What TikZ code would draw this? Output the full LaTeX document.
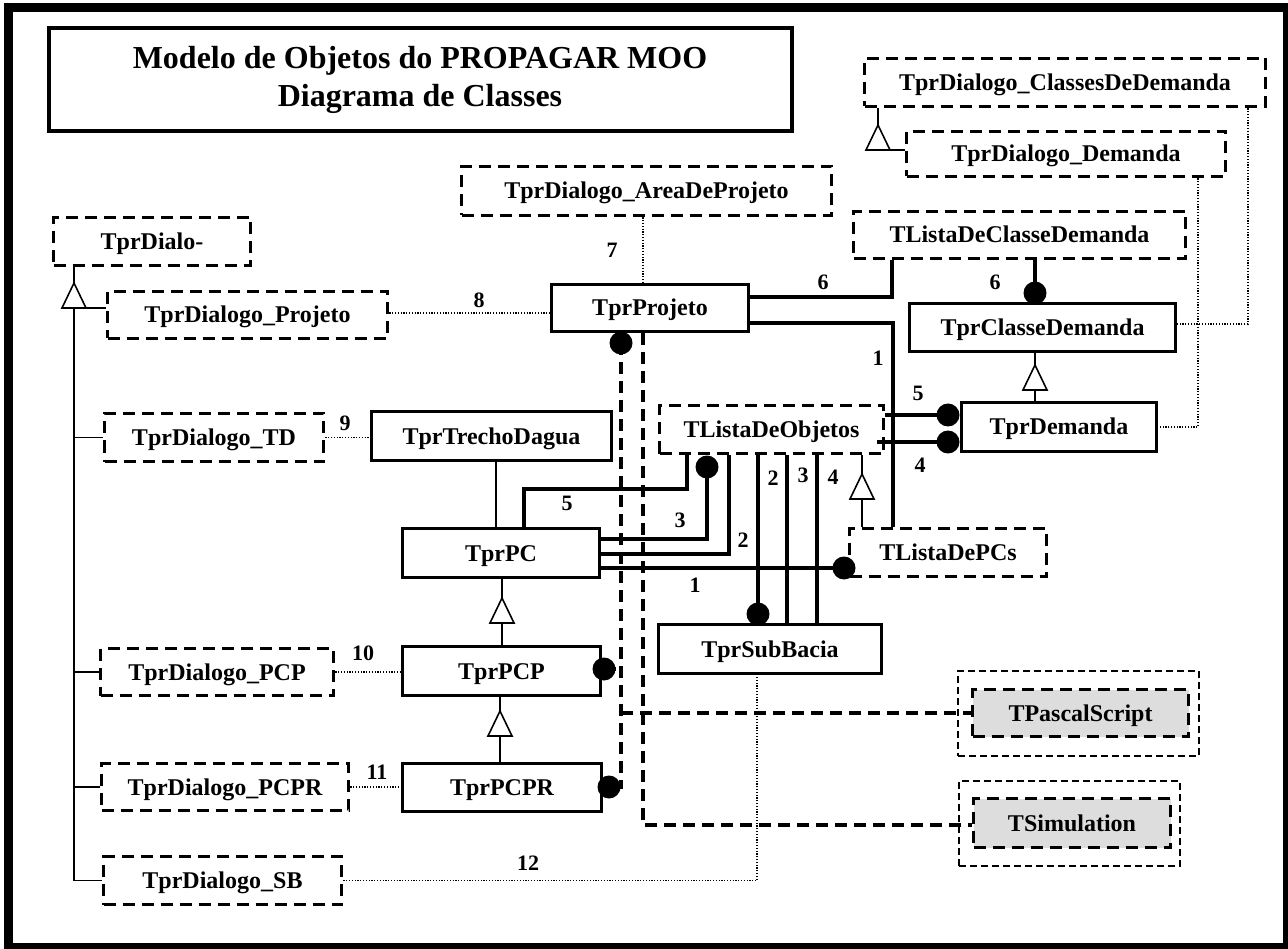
\documentclass[tikz,border=0pt]{standalone}
\usepackage{fontspec}
\setmainfont{Liberation Serif}
\definecolor{boxgray}{HTML}{DDDDDD}
\newcommand\nodefnt{\fontsize{24}{28}\selectfont\bfseries}
\newcommand\lblfnt{\fontsize{22}{26}\selectfont\bfseries}
\newcommand\titlefnt{\fontsize{32}{38}\selectfont\bfseries}
\newcommand\inhtri[1]{\draw[inh, fill=white] (#1) -- ++(-12,25) -- ++(24,0) -- cycle;}
\newcommand\ballat[1]{\fill[black] (#1) circle (11.5pt);}
\begin{document}
\begin{tikzpicture}[x=1pt,y=-1pt,
  sz/.style 2 args={minimum width=#1pt, minimum height=#2pt},
  sbox/.style={draw, line width=3.8pt, inner sep=0pt, font=\nodefnt, fill=white, text height=20pt, text depth=4pt},
  dbox/.style={draw, line width=3.8pt, dash pattern=on 12pt off 7pt, inner sep=0pt, font=\nodefnt, text height=20pt, text depth=4pt},
  gbox/.style={dbox, fill=boxgray},
  obox/.style={draw, line width=1.6pt, dash pattern=on 7pt off 4pt},
  assoc/.style={line width=3.8pt},
  inh/.style={line width=1.6pt},
  dots/.style={line width=1.3pt, dash pattern=on 1.2pt off 1.6pt},
  dline/.style={line width=3.8pt, dash pattern=on 12pt off 7pt},
  lbl/.style={font=\lblfnt, inner sep=0pt},
]
\useasboundingbox (0,0) rectangle (1288,949);
\fill[white] (0,0) rectangle (1288,949);
\draw[line width=9pt] (8,8) rectangle (1287,947);

% title
\node[draw, line width=4pt, sz={743}{103}, align=center, font=\titlefnt] (title) at (420,80)
  {Modelo de Objetos do PROPAGAR MOO\\Diagrama de Classes};

% class nodes
\node[dbox, sz={401}{48}] (cdd) at (1065,82.5) {TprDialogo\_ClassesDeDemanda};
\node[dbox, sz={319}{45}] (dd) at (1066,154) {TprDialogo\_Demanda};
\node[dbox, sz={370}{49}] (area) at (646.5,191) {TprDialogo\_AreaDeProjeto};
\node[dbox, sz={332}{47}] (lcd) at (1019.5,235) {TListaDeClasseDemanda};
\node[dbox, sz={197}{48}] (dialo) at (152,241.5) {TprDialo-};
\node[dbox, sz={280}{47}] (dproj) at (247.5,315) {TprDialogo\_Projeto};
\node[sbox, sz={197}{47}] (proj) at (650,308) {TprProjeto};
\node[sbox, sz={266}{48}] (cd) at (1042.5,327.5) {TprClasseDemanda};
\node[dbox, sz={219}{48}] (dtd) at (214,437.5) {TprDialogo\_TD};
\node[sbox, sz={240}{49}] (trecho) at (491.5,436) {TprTrechoDagua};
\node[dbox, sz={224}{48}] (lobj) at (771.5,429.5) {TListaDeObjetos};
\node[sbox, sz={195}{49}] (dem) at (1059,427) {TprDemanda};
\node[sbox, sz={197}{49}] (pc) at (501,553) {TprPC};
\node[dbox, sz={197}{48}] (lpcs) at (948,552.5) {TListaDePCs};
\node[sbox, sz={223}{49}] (sub) at (770,649) {TprSubBacia};
\node[dbox, sz={233}{47}] (dpcp) at (217,672) {TprDialogo\_PCP};
\node[sbox, sz={198}{49}] (pcp) at (501.5,671) {TprPCP};
\node[obox, sz={241}{85}] (pascalbox) at (1078.5,713.5) {};
\node[gbox, sz={216}{47}] (pascal) at (1080.5,713) {TPascalScript};
\node[dbox, sz={247}{47}] (dpcpr) at (225,787) {TprDialogo\_PCPR};
\node[sbox, sz={199}{48}] (pcpr) at (502,787.5) {TprPCPR};
\node[obox, sz={221}{85}] (simbox) at (1069.5,823.5) {};
\node[gbox, sz={197}{49}] (sim) at (1072,823) {TSimulation};
\node[dbox, sz={238}{48}] (dsb) at (222.5,880.5) {TprDialogo\_SB};

% dotted links
\coordinate (q8) at (0,313);
\draw[dots] (dproj.east |- q8) -- (proj.west |- q8);
\coordinate (q7) at (643,0);
\draw[dots] (q7 |- area.south) -- (q7 |- proj.north);
\draw[dots] (dtd.east) -- (trecho.west |- dtd.east);
\draw[dots] (dpcp.east) -- (pcp.west |- dpcp.east);
\draw[dots] (dpcpr.east) -- (pcpr.west |- dpcpr.east);
\coordinate (q12) at (757,0);
\draw[dots] (dsb.east) -| (q12 |- sub.south);
\coordinate (qd) at (1198,0);
\draw[dots] (qd |- dd.south) |- (dem.east);
\coordinate (qc) at (1248,0);
\coordinate (qc2) at (0,324);
\draw[dots] (qc |- cdd.south) |- (cd.east |- qc2);

% dashed links
\coordinate (bproj) at (621,343);
\coordinate (bpcp) at (604,669);
\coordinate (bpcpr) at (609,787);
\coordinate (v1) at (621,0);
\draw[dline] (bproj) -- (v1 |- bpcpr) -- (bpcpr);
\draw[dline] (bpcp) -- (v1 |- bpcp);
\draw[dline] (v1 |- pascal.west) -- (pascal.west);
\coordinate (v2) at (643,0);
\coordinate (v2b) at (0,825);
\draw[dline] (v2 |- proj.south) -- (v2 |- v2b) -- (sim.west |- v2b);
\ballat{bproj}
\ballat{bpcp}
\ballat{bpcpr}

% solid associations
\coordinate (k6) at (892,297);
\draw[assoc] (proj.east |- k6) -| (k6 |- lcd.south);
\coordinate (k6b) at (1035,293);
\draw[assoc] (k6b |- lcd.south) -- (k6b);
\ballat{k6b}
\coordinate (k1) at (893,323);
\draw[assoc] (proj.east |- k1) -| (k1 |- lpcs.north);
\coordinate (k5) at (948,415);
\draw[assoc] (lobj.east |- k5) -- (k5);
\ballat{k5}
\coordinate (k4s) at (877,442);
\coordinate (k4) at (948,442);
\draw[assoc] (k4s) -- (k4);
\ballat{k4}

\coordinate (tr) at (496,0);
\draw[line width=2.2pt] (tr |- trecho.south) -- (tr |- pc.north);

\coordinate (p5a) at (524,489);
\coordinate (p5b) at (687,489);
\draw[assoc] (p5a |- pc.north) -- (p5a) -- (p5b) -- (p5b |- lobj.south);
\coordinate (p3) at (707,467);
\coordinate (p3a) at (707,539);
\draw[assoc] (pc.east |- p3a) -- (p3a) -- (p3);
\ballat{p3}
\coordinate (p2) at (729,554);
\draw[assoc] (pc.east |- p2) -- (p2) -- (p2 |- lobj.south);
\coordinate (p1) at (844,568);
\draw[assoc] (pc.east |- p1) -- (p1);
\ballat{p1}
\coordinate (s2) at (758,614);
\draw[assoc] (s2 |- lobj.south) -- (s2);
\ballat{s2}
\coordinate (s3) at (787,0);
\draw[assoc] (s3 |- lobj.south) -- (s3 |- sub.north);
\coordinate (s4) at (817,0);
\draw[assoc] (s4 |- lobj.south) -- (s4 |- sub.north);

% inheritance
\coordinate (a1) at (1035,365);
\draw[inh] (a1 |- dem.north) -- ([yshift=-25pt]a1);
\draw[inh] (a1) -- (a1 |- cd.south);
\inhtri{a1}
\coordinate (a2) at (862,474);
\draw[inh] (a2 |- lpcs.north) -- ([yshift=-25pt]a2);
\draw[inh] (a2) -- (a2 |- lobj.south);
\inhtri{a2}
\coordinate (a3) at (502,598);
\draw[inh] (a3 |- pcp.north) -- ([yshift=-25pt]a3);
\draw[inh] (a3) -- (a3 |- pc.south);
\inhtri{a3}
\coordinate (a4) at (500,711);
\draw[inh] (a4 |- pcpr.north) -- ([yshift=-25pt]a4);
\draw[inh] (a4) -- (a4 |- pcp.south);
\inhtri{a4}
\coordinate (a5) at (878,125);
\coordinate (a5b) at (878,150);
\draw[inh] (a5) -- (a5 |- cdd.south);
\draw[inh] (a5b) -- (dd.west |- a5b);
\inhtri{a5}
\coordinate (a6) at (74,283);
\coordinate (a6b) at (74,308);
\draw[inh] (a6) -- (a6 |- dialo.south);
\draw[inh] (a6b) -- (dproj.west |- a6b);
\draw[inh] (a6b) -- (a6b |- dsb.west) -- (dsb.west);
\draw[inh] (a6b |- dtd.west) -- (dtd.west);
\draw[inh] (a6b |- dpcp.west) -- (dpcp.west);
\draw[inh] (a6b |- dpcpr.west) -- (dpcpr.west);
\inhtri{a6}

% labels
\node[lbl] (n8) at (479,300) {8};
\node[lbl] (n7) at (612,250) {7};
\node[lbl] (n6a) at (823,282) {6};
\node[lbl] (n6b) at (995,282) {6};
\node[lbl] (n1a) at (878,358) {1};
\node[lbl] (n5a) at (918,393) {5};
\node[lbl] (n4a) at (920,465) {4};
\node[lbl] (n9) at (345,423) {9};
\node[lbl] (n5b) at (567,503) {5};
\node[lbl] (n3a) at (680,520) {3};
\node[lbl] (n2a) at (743,540) {2};
\node[lbl] (n1b) at (695,585) {1};
\node[lbl] (n2b) at (773,478) {2};
\node[lbl] (n3b) at (803,475) {3};
\node[lbl] (n4b) at (833,477) {4};
\node[lbl] (n10) at (363,653) {10};
\node[lbl] (n11) at (377,772) {11};
\node[lbl] (n12) at (528,863) {12};
\end{tikzpicture}
\end{document}
